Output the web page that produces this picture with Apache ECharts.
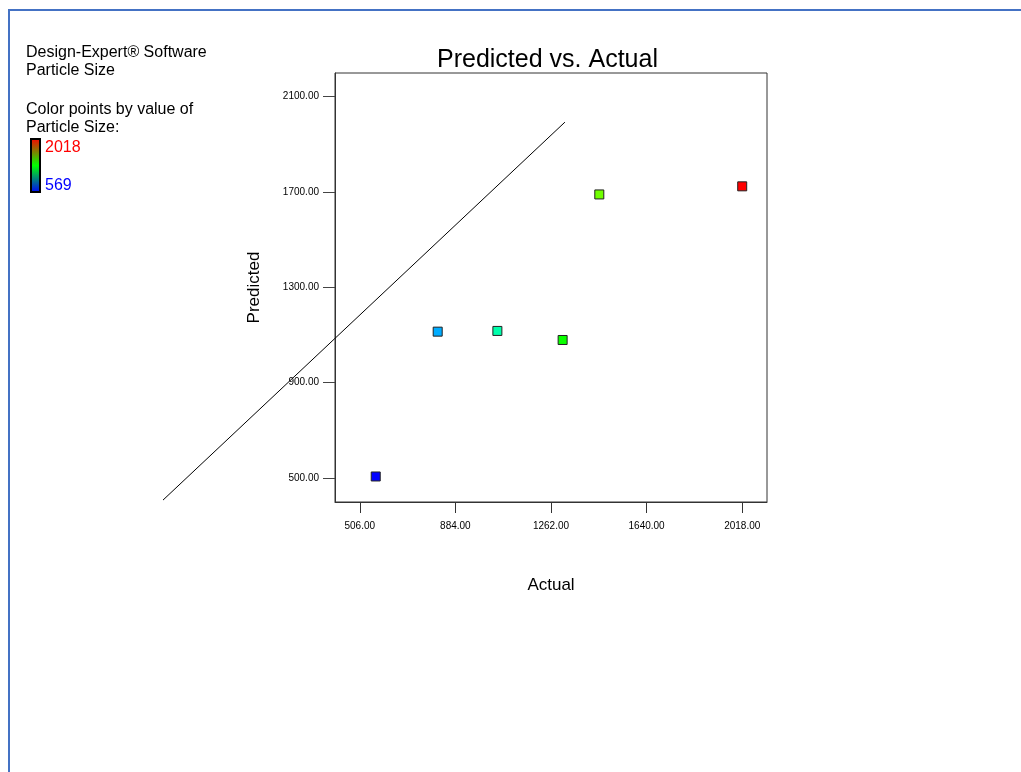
<!DOCTYPE html>
<html>
<head>
<meta charset="utf-8">
<script src="https://cdn.jsdelivr.net/npm/echarts@6/dist/echarts.min.js"></script>
<style>
  html, body { margin: 0; padding: 0; background: #fff; }
  #chart { width: 1021px; height: 772px; }
</style>
</head>
<body>
<div id="chart"></div>
<script>
// ---- data ----
const actual    = [569, 814, 1050, 1308, 1453, 2018];
const predicted = [507, 1114, 1117, 1079, 1689, 1723];
const xTicks = [506, 884, 1262, 1640, 2018];
const yTicks = [500, 900, 1300, 1700, 2100];
const xRange = [408, 2116];
const yRange = [400, 2198];
// reference (diagonal) line end points, as drawn in the original
const refLineX = [-272, 1317];
const refLineY = [408, 1992];
const colorMin = 569, colorMax = 2018;

const points = actual.map((a, i) => [a, predicted[i]]);
const refLine = refLineX.map((x, i) => [x, refLineY[i]]);

const FONT = '"Liberation Sans", Arial, sans-serif';
const chart = echarts.init(document.getElementById('chart'), null, { renderer: 'canvas' });

const legendText = (id, txt, x, y, color) => ({
  id: id, type: 'text', left: x, top: y,
  style: { text: txt, fill: color || '#000', font: '16px ' + FONT }
});

const baseGraphic = [
  {
    id: 'frame', type: 'polyline', silent: true,
    shape: { points: [[9, 772], [9, 10], [1021, 10]] },
    style: { stroke: '#4472c4', lineWidth: 2, fill: null }
  },
  legendText('t1', 'Design-Expert\u00ae Software', 26, 45),
  legendText('t2', 'Particle Size', 26, 63),
  legendText('t3', 'Color points by value of', 26, 102),
  legendText('t4', 'Particle Size:', 26, 120),
  {
    id: 'bar', type: 'rect', left: 30, top: 138,
    shape: { width: 9, height: 53 },
    style: {
      stroke: '#000', lineWidth: 2,
      fill: new echarts.graphic.LinearGradient(0, 0, 0, 1, [
        { offset: 0, color: '#ff0000' },
        { offset: 0.5, color: '#00ff00' },
        { offset: 1, color: '#0000ff' }
      ])
    }
  },
  legendText('tmax', String(colorMax), 45, 140, '#ff0000'),
  legendText('tmin', String(colorMin), 45, 178, '#0000ff')
];

chart.setOption({
  animation: false,
  backgroundColor: '#fff',
  title: {
    text: 'Predicted vs. Actual',
    left: 432, top: 43,
    textStyle: { fontFamily: FONT, fontSize: 25, fontWeight: 'normal', color: '#000' }
  },
  grid: {
    left: 335, top: 73, right: 254, bottom: 270,
    show: true, borderColor: '#333', borderWidth: 1, backgroundColor: '#fff'
  },
  visualMap: {
    type: 'continuous', show: false, seriesIndex: 0, dimension: 0,
    min: colorMin, max: colorMax,
    inRange: { color: ['#0000ff', '#00ffff', '#00ff00', '#ffff00', '#ff0000'] }
  },
  xAxis: {
    type: 'value', min: xRange[0], max: xRange[1],
    name: 'Actual', nameLocation: 'middle', nameGap: 75,
    nameTextStyle: { fontFamily: FONT, fontSize: 17, color: '#000' },
    axisLine: { show: true, lineStyle: { color: '#333', width: 1 } },
    axisTick: { show: true, inside: false, length: 11, customValues: xTicks, lineStyle: { color: '#333', width: 1 } },
    axisLabel: {
      customValues: xTicks, margin: 19, fontFamily: FONT, fontSize: 10, color: '#000',
      formatter: v => v.toFixed(2)
    },
    splitLine: { show: false }
  },
  yAxis: {
    type: 'value', min: yRange[0], max: yRange[1],
    name: 'Predicted', nameLocation: 'middle', nameGap: 72,
    nameTextStyle: { fontFamily: FONT, fontSize: 17, color: '#000' },
    axisLine: { show: true, lineStyle: { color: '#333', width: 1 } },
    axisTick: { show: true, inside: false, length: 12, customValues: yTicks, lineStyle: { color: '#444', width: 1 } },
    axisLabel: {
      customValues: yTicks, margin: 16, fontFamily: FONT, fontSize: 10, color: '#000',
      formatter: v => v.toFixed(2)
    },
    splitLine: { show: false }
  },
  series: [
    {
      type: 'scatter',
      data: points,
      symbol: 'rect',
      symbolSize: 9,
      itemStyle: { borderColor: '#222', borderWidth: 1, opacity: 1 },
      z: 5
    }
  ],
  graphic: baseGraphic
});

// The reference line runs past the plot frame in the original, so it is
// placed through the chart's own scales (convertToPixel) and drawn unclipped.
const p0 = chart.convertToPixel({ gridIndex: 0 }, refLine[0]);
const p1 = chart.convertToPixel({ gridIndex: 0 }, refLine[1]);
chart.setOption({
  graphic: baseGraphic.concat([{
    id: 'refline', type: 'line', silent: true, z: 4,
    shape: { x1: p0[0], y1: p0[1], x2: p1[0], y2: p1[1] },
    style: { stroke: '#000', lineWidth: 1 }
  }])
});
</script>
</body>
</html>
